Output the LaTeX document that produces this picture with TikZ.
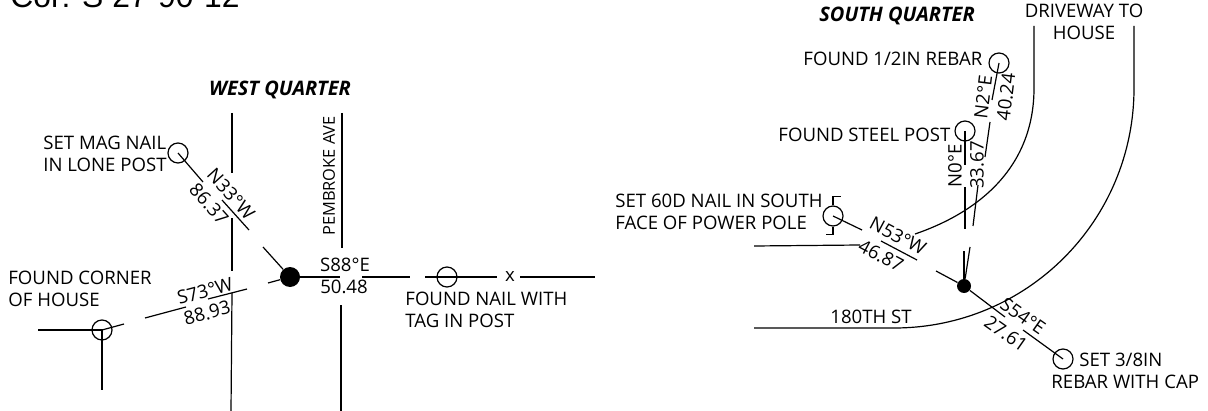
\documentclass[tikz,border=0pt]{standalone}
\usepackage{fontspec}
\setmainfont{Open Sans}
\newfontfamily\headfont{Liberation Sans}
\tikzset{
    lab/.style={inner sep=0pt,font=\fontsize{9.3}{11}\selectfont,align=left},
    brg/.style={lab,align=center},
    hdg/.style={inner sep=0pt,font=\fontsize{10}{11}\selectfont\bfseries\itshape},
    mon/.style={circle,draw,line width=0.6pt,minimum size=10pt,inner sep=0pt},
    pt/.style={circle,fill=black,minimum size=10pt,inner sep=0pt},
    ln/.style={line width=0.6pt}
}
\begin{document}
\begin{tikzpicture}[x=0.5pt,y=-0.5pt]
    \useasboundingbox (0,0) rectangle (1208,411);
    \node[anchor=base west,inner sep=0pt,font=\headfont\fontsize{15.9}{17}\selectfont] (hdr) at (10,8) {Cor: S 27-90-12};

    % west quarter
    \node[hdg] (wq) at (280,90) {WEST QUARTER};
    \node[pt] (wpt) at (290,277) {};
    \node[mon] (wmag) at (178,153) {};
    \node[mon] (whouse) at (102,330) {};
    \node[mon] (wnail) at (447,277) {};
    \node[lab,anchor=west] (wmaglab) at (43,154) {SET MAG NAIL\\IN LONE POST};
    \node[lab,anchor=west] (whouselab) at (8,289) {FOUND CORNER\\OF HOUSE};
    \node[lab,anchor=west] (wnaillab) at (405,310) {FOUND NAIL WITH\\TAG IN POST};
    \node[lab,rotate=90,font=\fontsize{8.2}{11}\selectfont] (pembroke) at (329,176) {PEMBROKE AVE};
    \node[lab] (wx) at (510,277) {x};
    \node[brg] (b1) at (345,265) {S88°E};
    \node[brg] (d1) at (344,287) {50.48};
    \node[brg,rotate=-48] (b2) at (231,194) {N33°W};
    \node[brg,rotate=-48] (d2) at (209,204) {86.37};
    \node[brg,rotate=15] (b3) at (205,291) {S73°W};
    \node[brg,rotate=15] (d3) at (207,313) {88.93};
    \coordinate (w1) at (232,113);
    \coordinate (w2) at (232,173);
    \coordinate (w3) at (232,218);
    \coordinate (w4) at (232,271);
    \coordinate (w5) at (232,293);
    \coordinate (w6) at (231,411);
    \coordinate (p1) at (342,113);
    \coordinate (p2) at (342,248);
    \coordinate (p3) at (341,305);
    \coordinate (p4) at (341,411);
    \draw[ln] (w1)--(w2);
    \draw[ln] (w3)--(w4);
    \draw[ln] (w5)--(w6);
    \draw[ln] (p1)--(p2);
    \draw[ln] (p3)--(p4);
    \draw[ln] (wmag.center)--(203,182);
    \draw[ln] (222,200)--(249,230);
    \draw[ln] (263,247)--(wpt);
    \draw[ln] (wpt)--(340,277);
    \draw[ln] (362,277)--(410,277);
    \draw[ln] (425,277)--(wnail.center);
    \draw[ln] (wnail.center)--(497,277);
    \draw[ln] (520,277)--(595,277);
    \draw[ln] (wpt)--(268,283);
    \draw[ln] (247,289)--(208,299);
    \draw[ln] (186,307)--(145,318);
    \draw[ln] (124,324)--(whouse.center);
    \draw[ln] (38,330)--(whouse.center)--(102,390);

    % south quarter
    \node[hdg] (sq) at (897,16) {SOUTH QUARTER};
    \node[pt,minimum size=7pt] (spt) at (964,286) {};
    \node[mon] (srebar) at (999,63) {};
    \node[mon] (spost) at (965,131) {};
    \node[mon] (spole) at (833,216) {};
    \node[mon] (scap) at (1063,359) {};
    \node[lab,anchor=west] (srebarlab) at (803,59) {FOUND 1/2IN REBAR};
    \node[lab,anchor=west] (spostlab) at (778,135) {FOUND STEEL POST};
    \node[lab,anchor=west] (spolelab) at (615,212) {SET 60D NAIL IN SOUTH\\FACE OF POWER POLE};
    \node[lab,anchor=west] (scaplab) at (1051,371) {\hspace*{14pt}SET 3/8IN\\REBAR WITH CAP};
    \node[lab,align=center] (drive) at (1084,22) {DRIVEWAY TO\\HOUSE};
    \node[lab] (st) at (871,317) {180TH ST};
    \node[brg,rotate=90] (b4) at (955,166) {N0°E};
    \node[brg,rotate=90] (d4) at (977,165) {33.67};
    \node[brg,rotate=83] (b5) at (983,97) {N2°E};
    \node[brg,rotate=83] (d5) at (1006,97) {40.24};
    \node[brg,rotate=-28] (b6) at (898,236) {N53°W};
    \node[brg,rotate=-28] (d6) at (881,256) {46.87};
    \node[brg,rotate=-35] (b7) at (1023,316) {S54°E};
    \node[brg,rotate=-35] (d7) at (1006,334) {27.61};
    \coordinate (dw1) at (1034,26);
    \coordinate (dw2) at (1034,88);
    \coordinate (dw3) at (915,234);
    \coordinate (dw4) at (1134,26);
    \coordinate (dw5) at (1134,88);
    \coordinate (dw6) at (894,328);
    \coordinate (dw7) at (754,328);
    \coordinate (s1) at (754,246);
    \coordinate (s2) at (860,245);
    \draw[ln] (dw1)--(dw2) .. controls (1034,165) and (982,211) .. (dw3);
    \draw[ln] (dw4)--(dw5) .. controls (1134,221) and (1027,328) .. (dw6)--(dw7);
    \draw[ln] (s1)--(s2);
    \draw[ln] (spost.center)--(965,165);
    \draw[ln] (965,187)--(965,229);
    \draw[ln] (964,251)--(spt);
    \draw[ln] (970,247)--(spt);
    \draw[ln] (srebar.center)--(992,100);
    \draw[ln] (990,122)--(985,157);
    \draw[ln] (978,185)--(973,226);
    \draw[ln] (spole.center)--(862,230);
    \draw[ln] (881,241)--(917,260);
    \draw[ln] (936,271)--(spt);
    \draw[ln] (spt)--(1005,317);
    \draw[ln] (1023,330)--(scap.center);
    \draw[ln] (spole.north) -- ++(0,-9) -- ++(8,0);
    \draw[ln] (spole.south) -- ++(0,8) -- ++(-7,0);
\end{tikzpicture}
\end{document}
